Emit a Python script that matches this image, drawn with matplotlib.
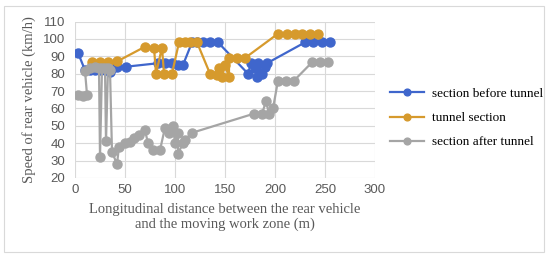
import matplotlib
matplotlib.use("Agg")
import matplotlib.pyplot as plt
from matplotlib.patches import Rectangle


BLUE = "#3F66CC"
ORANGE = "#D69A2D"
GRAY = "#A5A5A5"
TEXT_GRAY = "#595959"
GRID = "#D9D9D9"

before_x = [3, 10, 15, 20, 25, 30, 35, 37, 42, 51, 83, 90, 97, 103, 108,
            117, 122, 128, 135, 143, 173, 176, 180, 182, 183, 187, 190, 192,
            230, 238, 247, 255]
before_y = [92, 82, 82, 82, 82, 82, 81, 83, 84, 84, 86, 86, 86, 85, 85,
            98, 98, 98, 98, 98, 80, 86, 83, 78, 86, 80, 84, 86,
            98, 98, 98, 98]

tunnel_x = [17, 25, 33, 42, 70, 79, 81, 87, 89, 97, 104, 110, 115, 122,
            135, 142, 144, 147, 150, 154, 154, 162, 170,
            203, 212, 220, 227, 235, 243]
tunnel_y = [86.5, 86.5, 86.5, 87, 95.5, 95, 80, 95, 80, 80, 98, 98, 98, 98,
            80, 79, 83, 78, 85, 78, 89, 89, 89,
            103, 103, 103, 103, 103, 103]

after_x = [3, 8, 12, 10, 15, 20, 24, 25, 27, 30, 31, 33, 35, 37, 42, 44,
           50, 55, 59, 64, 70, 73, 78, 85, 90, 94, 98, 100, 103, 103, 108,
           110, 117, 179, 187, 191, 194, 198, 203, 211, 219, 237, 245, 253]
after_y = [68, 67, 68, 81.5, 83, 84, 83, 32, 83, 83, 41, 83, 82, 35, 28, 38,
           40, 40.5, 43, 45, 47.5, 40, 36, 36, 49, 46, 50, 40, 46, 34, 40,
           42, 46, 57, 57, 64, 57, 60, 76, 76, 76, 86.5, 86.5, 86.5]

series = [
    ("section before tunnel", before_x, before_y, BLUE),
    ("tunnel section", tunnel_x, tunnel_y, ORANGE),
    ("section after tunnel", after_x, after_y, GRAY),
]

x_ticks = [0, 50, 100, 150, 200, 250, 300]
y_ticks = [20, 30, 40, 50, 60, 70, 80, 90, 100, 110]


fig = plt.figure(figsize=(5.5, 2.59), dpi=100)
ax = fig.add_axes([75 / 550, 1 - 178 / 259, 300 / 550, 156.5 / 259])

# chart area border
fig.patches.append(Rectangle(
    (4 / 550, 1 - 252 / 259), 540 / 550, 246 / 259,
    transform=fig.transFigure, fill=False, edgecolor=GRID, linewidth=0.8,
))

for label, xs, ys, color in series:
    ax.plot(
        xs, ys,
        color=color,
        linewidth=1.6,
        marker="o",
        markersize=6.5,
        label=label,
        zorder=3,
    )

ax.set_xlim(0, 300)
ax.set_ylim(20, 110)
ax.set_xticks(x_ticks)
ax.set_yticks(y_ticks)
ax.grid(True, color=GRID, linewidth=0.8)
ax.set_axisbelow(True)
for spine in ax.spines.values():
    spine.set_visible(False)

ax.tick_params(length=0, labelsize=9.5, labelcolor=TEXT_GRAY)
ax.tick_params(axis="y", pad=7)
ax.tick_params(axis="x", pad=4)
for tick in ax.get_xticklabels() + ax.get_yticklabels():
    tick.set_family("Liberation Sans")

ax.set_xlabel(
    "Longitudinal distance between the rear vehicle\nand the moving work zone (m)",
    family="Liberation Serif", fontsize=10.5, color=TEXT_GRAY, labelpad=5,
    linespacing=1.15,
)
ax.set_ylabel(
    "Speed of rear vehicle (km/h)",
    family="Liberation Serif", fontsize=10.5, color=TEXT_GRAY, labelpad=5,
)

fig.legend(
    loc="upper left",
    bbox_to_anchor=(378 / 550, 1 - 76 / 259),
    frameon=False,
    prop={"family": "Liberation Serif", "size": 9.5},
    handlelength=2.6,
    handletextpad=0.6,
    labelspacing=0.9,
    markerscale=0.75,
)

fig.savefig("out.png", dpi=100)
